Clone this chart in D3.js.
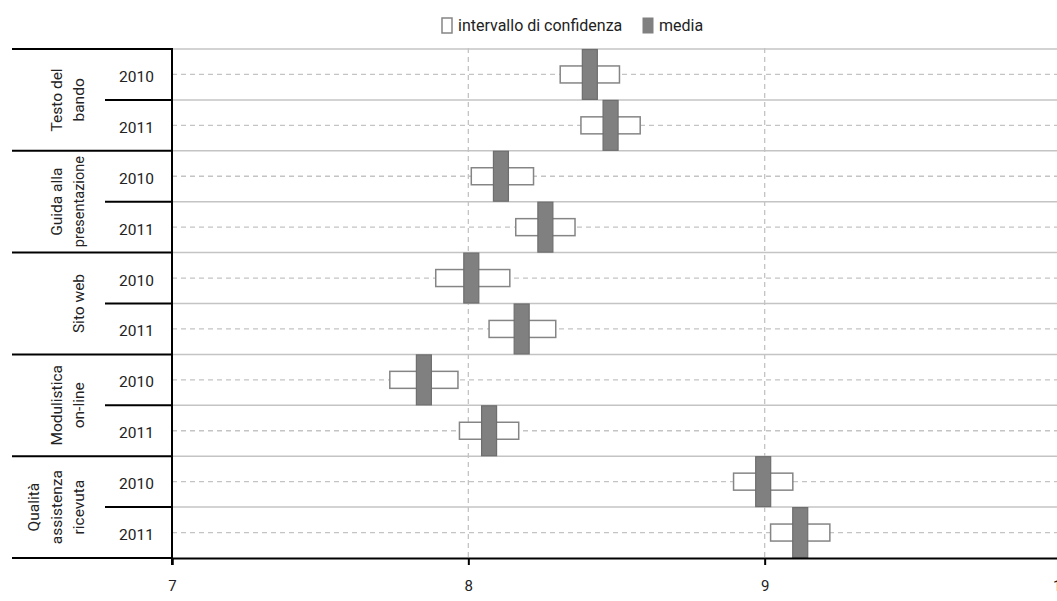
<!DOCTYPE html>
<html><head><meta charset="utf-8">
<script src="https://cdn.jsdelivr.net/npm/d3@7"></script>
<style>body{margin:0;background:#fff}svg{display:block;font-family:Roboto,"DejaVu Sans",sans-serif}</style>
</head><body><svg id="c" width="1057" height="601"></svg>
<script>
const groupLines = [["Testo del","bando"],["Guida alla","presentazione"],["Sito web"],["Modulistica","on-line"],["Qualità","assistenza","ricevuta"]];
const years = ["2010","2011"];
const means  = [8.41, 8.48, 8.11, 8.26, 8.01, 8.18, 7.85, 8.07, 8.995, 9.12];
const ciLow  = [8.31, 8.38, 8.01, 8.16, 7.89, 8.07, 7.735, 7.97, 8.895, 9.02];
const ciHigh = [8.51, 8.58, 8.22, 8.36, 8.14, 8.295, 7.965, 8.17, 9.095, 9.22];
const xTicks = [7, 8, 9, 10];
const legendLabels = ["intervallo di confidenza", "media"];

const svg = d3.select("#c");
const L = 172, T = 49, B = 558;
const x = d3.scaleLinear().domain([7, 10]).range([L, 1061]);
const rows = d3.range(means.length);
const y = d3.scaleBand().domain(rows).range([T, B]);
const bw = y.bandwidth();

svg.append("g").selectAll("line").data(rows).join("line")
  .attr("x1", L).attr("x2", 1057).attr("y1", d => y(d)).attr("y2", d => y(d))
  .attr("stroke", "#c4c4c4").attr("stroke-width", 1.5);
svg.append("g").selectAll("line").data(rows).join("line")
  .attr("x1", L).attr("x2", 1057).attr("y1", d => y(d) + bw/2).attr("y2", d => y(d) + bw/2)
  .attr("stroke", "#c4c4c4").attr("stroke-width", 1.3).attr("stroke-dasharray", "5,4");
svg.append("g").selectAll("line").data(xTicks.filter(t => t > 7)).join("line")
  .attr("x1", d => x(d)).attr("x2", d => x(d)).attr("y1", T - 1).attr("y2", B)
  .attr("stroke", "#c4c4c4").attr("stroke-width", 1.3).attr("stroke-dasharray", "5,4");

const ch = 17;
svg.append("g").selectAll("rect").data(rows).join("rect")
  .attr("x", i => x(ciLow[i])).attr("width", i => x(ciHigh[i]) - x(ciLow[i]))
  .attr("y", i => y(i) + bw/2 - ch/2).attr("height", ch)
  .attr("fill", "#fff").attr("stroke", "#858585").attr("stroke-width", 1.5);
const mw = 15;
svg.append("g").selectAll("rect").data(rows).join("rect")
  .attr("x", i => x(means[i]) - mw/2).attr("width", mw)
  .attr("y", i => y(i) + 0.5).attr("height", bw - 1)
  .attr("fill", "#808080").attr("stroke", "#6e6e6e").attr("stroke-width", 1.2);

const xa = svg.append("g").attr("transform", `translate(0,${B})`)
  .call(d3.axisBottom(x).tickValues(xTicks).tickSize(7).tickPadding(15).tickFormat(d3.format("d")));
xa.attr("font-size", null).attr("font-family", null);
xa.select(".domain").attr("stroke", "#000").attr("stroke-width", 2);
xa.selectAll(".tick line").attr("stroke", "#000").attr("stroke-width", 2);
xa.selectAll("text").style("font-size", "15px").style("font-family", "Roboto").attr("fill", "#222");

svg.append("line").attr("x1", L).attr("x2", L).attr("y1", T - 1).attr("y2", B + 7)
  .attr("stroke", "#000").attr("stroke-width", 2);

const lg = svg.append("g");
rows.forEach(i => {
  const isGroup = i % 2 === 0;
  lg.append("line").attr("x1", isGroup ? 12 : 105).attr("x2", L)
    .attr("y1", y(i)).attr("y2", y(i)).attr("stroke", "#000").attr("stroke-width", 2);
});
lg.append("line").attr("x1", 12).attr("x2", L).attr("y1", B).attr("y2", B).attr("stroke", "#000").attr("stroke-width", 2);

svg.append("g").selectAll("text").data(rows).join("text")
  .attr("x", 136.5).attr("y", i => y(i) + bw/2 + 7.5).attr("text-anchor", "middle")
  .attr("font-size", 15.5).attr("fill", "#222").text(i => years[i % 2]);

groupLines.forEach((lines, g) => {
  const cy = (y(g*2) + y(g*2+1) + bw) / 2;
  const n = lines.length;
  lines.forEach((s, k) => {
    const bx = 84 - (n - 1 - k) * 22.5;
    svg.append("text").attr("transform", `translate(${bx},${cy}) rotate(-90)`)
      .attr("text-anchor", "middle").attr("font-size", s.length > 12 ? 14.5 : 15.5)
      .attr("fill", "#222").text(s);
  });
});

const leg = svg.append("g");
leg.append("rect").attr("x", 442).attr("y", 18).attr("width", 10).attr("height", 15)
  .attr("fill", "#fff").attr("stroke", "#858585").attr("stroke-width", 1.5);
leg.append("text").attr("x", 458).attr("y", 31).attr("font-size", 16).attr("fill", "#222").text(legendLabels[0]);
leg.append("rect").attr("x", 643).attr("y", 18).attr("width", 10).attr("height", 15)
  .attr("fill", "#808080").attr("stroke", "#808080");
leg.append("text").attr("x", 659).attr("y", 31).attr("font-size", 16).attr("fill", "#222").text(legendLabels[1]);
</script></body></html>
